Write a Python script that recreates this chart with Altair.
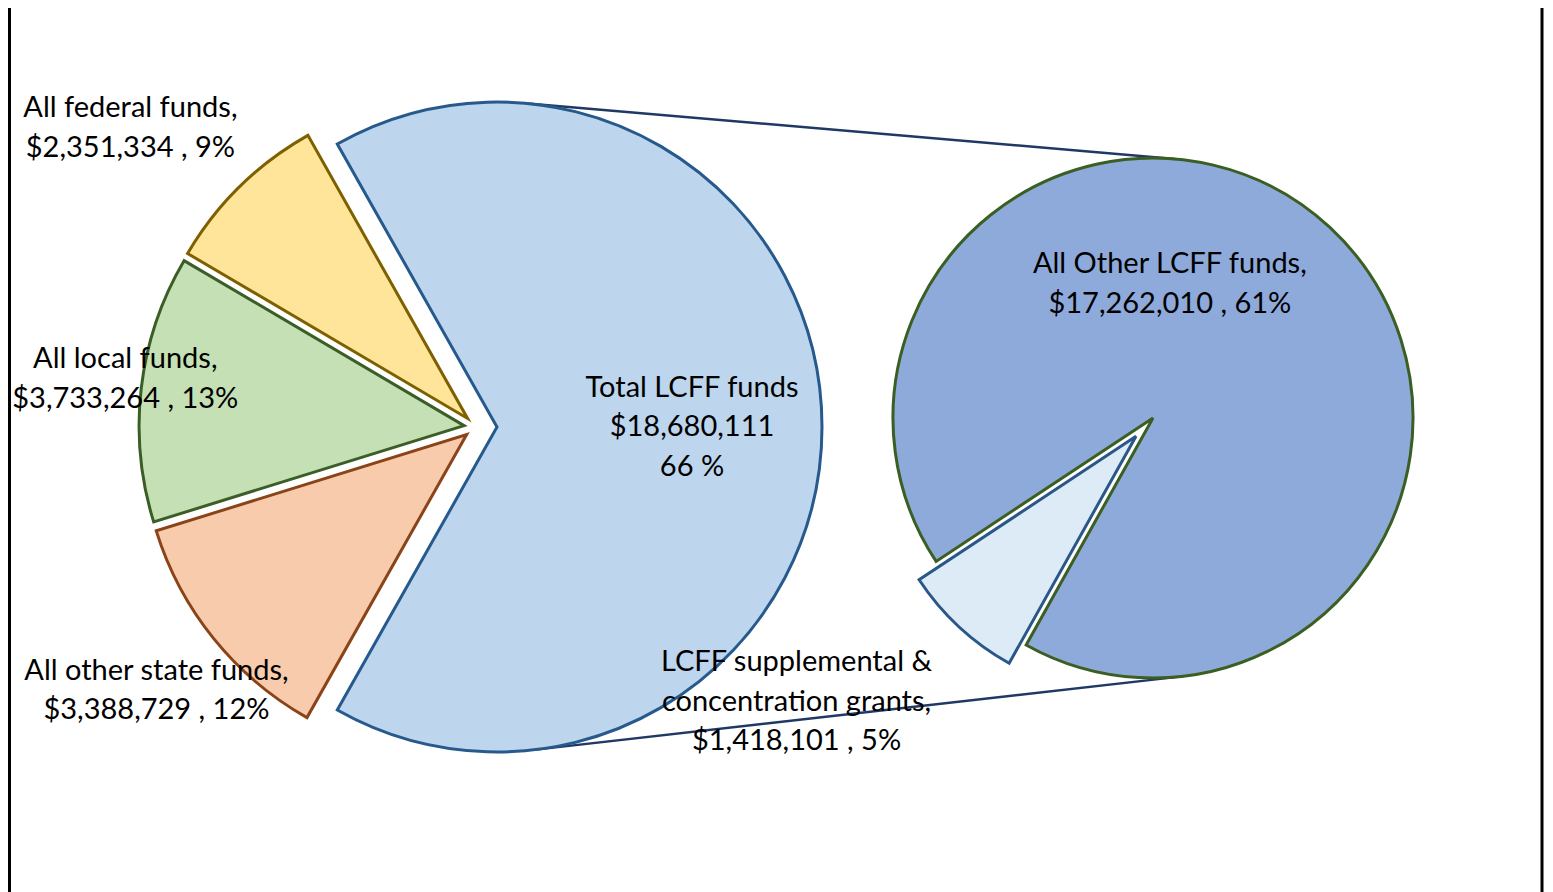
import math
import altair as alt
import pandas as pd

# ---------------- data ----------------
pie1_names = ["Total LCFF funds", "All other state funds", "All local funds", "All federal funds"]
pie1_values = [18680111, 3388729, 3733264, 2351334]
pie1_pct = ["66 %", "12%", "13%", "9%"]

pie2_names = ["LCFF supplemental & concentration grants", "All Other LCFF funds"]
pie2_display = ["LCFF supplemental  &\nconcentration grants,", "All Other LCFF funds,"]
pie2_values = [1418101, 17262010]
pie2_pct = ["5%", "61%"]

# ---------------- layout / style ----------------
W, H = 1537, 884          # view size; page has an 8px margin
X0, Y0 = 8, 8             # page offset so data units == page pixels
C1 = (476, 427)           # first pie base centre
R1 = 325
C2 = (1153, 418)          # second pie centre
R2 = 260
START2 = math.radians(209.2)
START1 = math.pi / 2 - math.pi * pie1_values[0] / sum(pie1_values)
FONT_SIZE = 29
LINE_H = 39.5

explode = {"Total LCFF funds": 21, "All other state funds": 12, "All local funds": 12,
           "All federal funds": 12, pie2_names[0]: 25, pie2_names[1]: 0}
# label placement: (distance from slice centre, angular nudge in degrees)
lab_place = {"Total LCFF funds": (195, 0), "All other state funds": (402, -0.6),
             "All local funds": (342, 1.2), "All federal funds": (445, -4.8),
             pie2_names[0]: (431, 9.1), pie2_names[1]: (135, -35.7)}

fills = {"Total LCFF funds": "#BDD6EE", "All other state funds": "#F8CBAD",
         "All local funds": "#C5E0B4", "All federal funds": "#FFE599",
         pie2_names[0]: "#DDEBF7", pie2_names[1]: "#8EAADB"}
strokes = {"Total LCFF funds": "#26598C", "All other state funds": "#8A4418",
           "All local funds": "#3B5E26", "All federal funds": "#7F6000",
           pie2_names[0]: "#2A5788", pie2_names[1]: "#3B5F22"}

all_names = pie1_names + pie2_names
fill_scale = alt.Scale(domain=all_names, range=[fills[n] for n in all_names])
stroke_scale = alt.Scale(domain=all_names, range=[strokes[n] for n in all_names])
xs = alt.Scale(domain=[X0, X0 + W], range=[0, W], nice=False, zero=False)
ys = alt.Scale(domain=[Y0 + H, Y0], nice=False, zero=False)

# ---------------- tables ----------------
lab1 = []
for n, v, p in zip(pie1_names, pie1_values, pie1_pct):
    if n == "Total LCFF funds":
        lab1.append(f"{n}\n${v:,}\n{p}")
    else:
        lab1.append(f"{n},\n${v:,} , {p}")
lab2 = [f"{d}\n${v:,} , {p}" for d, v, p in zip(pie2_display, pie2_values, pie2_pct)]

df1 = pd.DataFrame({"name": pie1_names, "value": pie1_values, "order": range(4), "label": lab1})
df2 = pd.DataFrame({"name": pie2_names, "value": pie2_values, "order": range(2), "label": lab2})
for df in (df1, df2):
    df["explode"] = [explode[n] for n in df["name"]]
    df["lab_r"] = [lab_place[n][0] for n in df["name"]]
    df["lab_nudge"] = [lab_place[n][1] for n in df["name"]]
    df["nlines"] = [s.count("\n") + 1 for s in df["label"]]


def pie(df, start, centre, R):
    base = (
        alt.Chart(df)
        .transform_window(cum="sum(value)", sort=[alt.SortField("order")], frame=[None, 0])
        .transform_joinaggregate(total="sum(value)")
        .transform_calculate(a0=f"{start} + 2*PI*(datum.cum - datum.value)/datum.total")
        .transform_calculate(a1=f"{start} + 2*PI*datum.cum/datum.total")
        .transform_calculate(mid="(datum.a0 + datum.a1)/2")
        .transform_calculate(px=f"{centre[0]} + datum.explode*sin(datum.mid)")
        .transform_calculate(py=f"{centre[1]} - datum.explode*cos(datum.mid)")
        .transform_calculate(lx="datum.px + datum.lab_r*sin(datum.mid + datum.lab_nudge*PI/180)")
        .transform_calculate(ly=f"datum.py - datum.lab_r*cos(datum.mid + datum.lab_nudge*PI/180)"
                                f" - (datum.nlines - 1)*{LINE_H}/2")
    )
    arcs = base.mark_arc(radius=R, strokeWidth=3, strokeJoin="miter").encode(
        x=alt.X("px:Q", scale=xs, axis=None),
        y=alt.Y("py:Q", scale=ys, axis=None),
        theta=alt.Theta("a0:Q", scale=None),
        theta2=alt.Theta2("a1:Q"),
        color=alt.Color("name:N", scale=fill_scale, legend=None),
        stroke=alt.Stroke("name:N", scale=stroke_scale, legend=None),
    )
    text = base.mark_text(font="Lato", fontSize=FONT_SIZE, lineBreak="\n", lineHeight=LINE_H,
                          align="center", baseline="middle", color="#000000").encode(
        x=alt.X("lx:Q", scale=xs, axis=None),
        y=alt.Y("ly:Q", scale=ys, axis=None),
        text="label:N",
    )
    return arcs, text


arcs1, text1 = pie(df1, START1, C1, R1)
arcs2, text2 = pie(df2, START2, C2, R2)

# connector lines: external tangents between the LCFF slice and the second pie
c1 = (C1[0] + explode["Total LCFF funds"], C1[1])
dx, dy = C2[0] - c1[0], C2[1] - c1[1]
d = math.hypot(dx, dy)
base_ang = math.atan2(-dy, dx)
phi = math.acos((R1 - R2) / d)
rows = []
for s in (1, -1):
    a = base_ang + s * phi
    rows.append({"x": c1[0] + R1 * math.cos(a), "y": c1[1] - R1 * math.sin(a),
                 "x2": C2[0] + R2 * math.cos(a), "y2": C2[1] - R2 * math.sin(a)})
conn = alt.Chart(pd.DataFrame(rows)).mark_rule(color="#1F3864", strokeWidth=2.4).encode(
    x=alt.X("x:Q", scale=xs, axis=None), y=alt.Y("y:Q", scale=ys, axis=None),
    x2="x2:Q", y2="y2:Q")

border_l = alt.Chart(pd.DataFrame({"k": [0]})).mark_rule(color="black", strokeWidth=3).encode(
    x=alt.value(1.5), y=alt.value(0), y2=alt.value(H))
border_r = alt.Chart(pd.DataFrame({"k": [0]})).mark_rule(color="black", strokeWidth=3).encode(
    x=alt.value(1534), y=alt.value(0), y2=alt.value(H))

chart = (
    alt.layer(conn, arcs1, arcs2, text1, text2, border_l, border_r)
    .properties(width=W, height=H, padding=0, autosize=alt.AutoSizeParams(type="none"))
    .configure_view(stroke=None)
)

chart.save("out.html", embed_options={"renderer": "svg", "actions": False})
